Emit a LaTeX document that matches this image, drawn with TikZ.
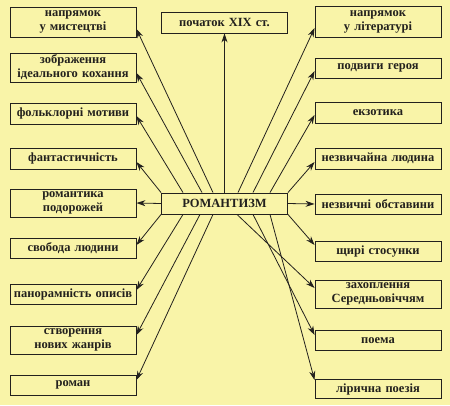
\documentclass[tikz,border=0pt]{standalone}
\usepackage{fontspec}
\setmainfont{Liberation Serif}
\usetikzlibrary{arrows.meta}
\definecolor{bgyel}{RGB}{249,244,168}
\definecolor{ink}{RGB}{35,33,30}
\begin{document}
\begin{tikzpicture}[x=1pt,y=-1pt,
  box/.style={draw=ink,line width=0.9pt,fill=bgyel,inner sep=1pt,align=center,
    text width=124pt,minimum width=126pt,font=\bfseries\fontsize{12.5}{14}\selectfont,text=ink},
  arr/.style={draw=ink,line width=0.8pt,-{Stealth[length=9pt,width=6pt]}}]
\fill[bgyel] (0,0) rectangle (450,405);
\useasboundingbox (0,0) rectangle (450,405);
% centre and top
\node[box,minimum height=21pt] (c) at (224.5,203.5) {РОМАНТИЗМ};
\node[box,minimum height=21pt] (t) at (224.5,22.5) {початок XIX ст.};
% left column
\node[box,minimum height=30pt] (l1) at (73,22) {напрямок\\у мистецтві};
\node[box,minimum height=29pt] (l2) at (73,67.5) {зображення\\ідеального кохання};
\node[box,minimum height=21pt] (l3) at (73,113.5) {фольклорні мотиви};
\node[box,minimum height=21pt] (l4) at (73,158.5) {фантастичність};
\node[box,minimum height=28pt] (l5) at (73,203) {романтика\\подорожей};
\node[box,minimum height=20pt] (l6) at (73,248) {свобода людини};
\node[box,minimum height=20pt] (l7) at (73,294) {панорамність описів};
\node[box,minimum height=28pt] (l8) at (73,340) {створення\\нових жанрів};
\node[box,minimum height=20pt] (l9) at (73,385) {роман};
% right column
\node[box,minimum height=31pt] (r1) at (378,21.5) {напрямок\\у літературі};
\node[box,minimum height=20pt] (r2) at (378,68) {подвиги героя};
\node[box,minimum height=21pt] (r3) at (378,112.5) {екзотика};
\node[box,minimum height=21pt] (r4) at (378,158.5) {незвичайна людина};
\node[box,minimum height=20pt] (r5) at (378,204) {незвичні обставини};
\node[box,minimum height=20pt] (r6) at (378,251.5) {щирі стосунки};
\node[box,minimum height=28pt] (r7) at (378,294) {захоплення\\Середньовіччям};
\node[box,minimum height=20pt] (r8) at (378,340.5) {поема};
\node[box,minimum height=19pt] (r9) at (378,389) {лірична поезія};
% arrows
\draw[arr] (c.north) -- (t.south);
\draw[arr] ([xshift=-11.5pt]c.north) -- ([yshift=-7pt]l1.east);
\draw[arr] ([xshift=-22.5pt]c.north) -- ([yshift=-5.5pt]l2.east);
\draw[arr] ([xshift=-41.5pt]c.north) -- ([yshift=-2.5pt]l3.east);
\draw[arr] (c.north west) -- ([yshift=-3.5pt]l4.east);
\draw[arr] (c.west) -- (l5.east);
\draw[arr] (c.south west) -- ([yshift=3pt]l6.east);
\draw[arr] ([xshift=-41.5pt]c.south) -- ([yshift=4pt]l7.east);
\draw[arr] ([xshift=-24.5pt]c.south) -- ([yshift=5pt]l8.east);
\draw[arr] ([xshift=-11.5pt]c.south) -- ([yshift=5pt]l9.east);
\draw[arr] ([xshift=13.5pt]c.north) -- ([yshift=-6.5pt]r1.west);
\draw[arr] ([xshift=28.5pt]c.north) -- ([yshift=-3pt]r2.west);
\draw[arr] ([xshift=45.5pt]c.north) -- ([yshift=-2.5pt]r3.west);
\draw[arr] (c.north east) -- ([yshift=-3.5pt]r4.west);
\draw[arr] (c.east) -- (r5.west);
\draw[arr] (c.south east) -- ([yshift=6.5pt]r6.west);
\draw[arr] ([xshift=12.5pt]c.south) -- ([yshift=6pt]r7.west);
\draw[arr] ([xshift=28.5pt]c.south) -- ([yshift=5.5pt]r8.west);
\draw[arr] ([xshift=45.5pt]c.south) -- ([yshift=9pt]r9.west);
\end{tikzpicture}
\end{document}
